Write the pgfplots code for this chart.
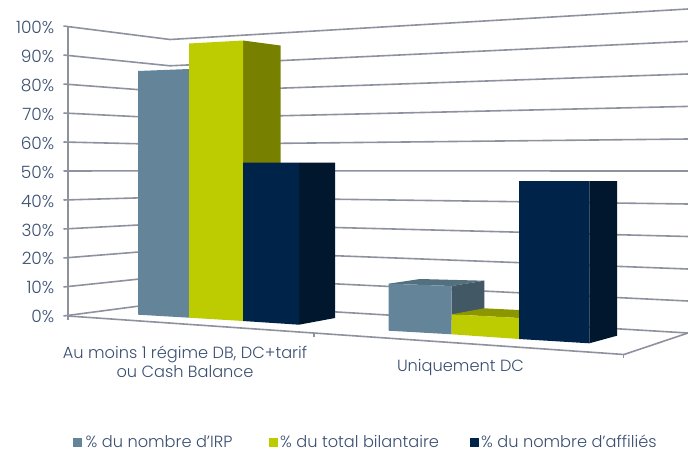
\documentclass[border=0pt]{standalone}
\usepackage{pgfplots}
\pgfplotsset{compat=1.18}
\usepackage{fontspec}
\setmainfont{Poppins Light}
\definecolor{txt}{HTML}{3A4F70}
\definecolor{grd}{HTML}{8E929E}
\definecolor{sl}{HTML}{64849A}
\definecolor{slt}{HTML}{53707F}
\definecolor{sls}{HTML}{435865}
\definecolor{li}{HTML}{BCCC00}
\definecolor{lis}{HTML}{788000}
\definecolor{lit}{HTML}{8C9700}
\definecolor{na}{HTML}{00234A}
\definecolor{nas}{HTML}{00172D}
\tikzset{
  gl/.style={draw=grd, line width=1.6pt, line cap=butt},
  face/.style={draw=none, fill=#1},
  lab/.style={font=\fontsize{16.2}{19.5}\selectfont, text=txt},
  tlab/.style={font=\fontsize{17}{20}\selectfont, text=txt, anchor=east, inner sep=0pt},
}
\begin{document}
\begin{tikzpicture}[x=1pt,y=1pt]
\begin{axis}[
  scale only axis, width=688pt, height=450pt,
  xmin=0, xmax=688, ymin=0, ymax=450, y dir=reverse,
  hide axis, clip=false,
]
% walls and floor
\addplot[gl,no marks] coordinates {(68,26) (68,320)};
\addplot[gl,no marks] coordinates {(68,316) (624,354.5) (688,333)};
\addplot[gl,no marks] coordinates {(314,333) (314,337)};
\addplot[gl,no marks] coordinates {(623.5,354) (623.5,358)};
% gridlines, front-left / back corner / right end
\addplot[gl,no marks] coordinates {(63.5,26) (170,39.5) (688,9)};
\addplot[gl,no marks] coordinates {(63.5,55) (170,65.8) (688,41.4)};
\addplot[gl,no marks] coordinates {(63.5,84) (170,92) (688,74)};
\addplot[gl,no marks] coordinates {(63.5,113) (170,118.3) (688,106.4)};
\addplot[gl,no marks] coordinates {(63.5,142) (170,144.5) (688,139)};
\addplot[gl,no marks] coordinates {(63.5,171) (170,170.8) (688,171)};
\addplot[gl,no marks] coordinates {(63.5,200) (170,197) (688,204)};
\addplot[gl,no marks] coordinates {(63.5,229) (170,223.3) (688,236.5)};
\addplot[gl,no marks] coordinates {(63.5,258) (170,249.5) (688,269)};
\addplot[gl,no marks] coordinates {(63.5,287) (170,275.8) (688,301)};
\addplot[gl,no marks] coordinates {(63.5,316) (170,302) (688,333)};
% group 1
\addplot[face=sl,no marks] coordinates {(138,71) (189,69) (189,317.7) (138,314.7)};
\addplot[face=lis,no marks] coordinates {(243,40.5) (280.5,45.5) (280.5,170) (243,170)};
\addplot[face=li,no marks] coordinates {(189,43.5) (243,40.5) (243,321) (189,317.7)};
\addplot[face=nas,no marks] coordinates {(299,162.5) (335,162.5) (335,318) (299,324.7)};
\addplot[face=na,no marks] coordinates {(243,162.5) (299,162.5) (299,324.7) (243,321)};
% group 2
\addplot[face=slt,no marks] coordinates {(388.7,283.7) (420,279) (484.3,280.7) (451.7,286)};
\addplot[face=sls,no marks] coordinates {(451.7,286) (484.3,280.7) (484.3,312) (451.7,318)};
\addplot[face=sl,no marks] coordinates {(388.7,283.7) (451.7,286) (451.7,334.3) (388.7,330.7)};
\addplot[face=lit,no marks] coordinates {(451.7,314.3) (484.3,308.3) (519,310) (519,318)};
\addplot[face=li,no marks] coordinates {(451.7,314.3) (519,318) (519,339) (451.7,334.3)};
\addplot[face=nas,no marks] coordinates {(589.3,181) (617,181) (617,335.7) (589.3,343.3)};
\addplot[face=na,no marks] coordinates {(519,181) (589.3,181) (589.3,343.3) (519,339)};
% legend swatches
\addplot[face=sl,no marks] coordinates {(73,438) (82,438) (82,447) (73,447)};
\addplot[face=li,no marks] coordinates {(268.5,438) (277.5,438) (277.5,447) (268.5,447)};
\addplot[face=na,no marks] coordinates {(469.5,438) (478.5,438) (478.5,447) (469.5,447)};
% tick labels
\node[tlab] at (axis cs:54.5,27) {100\%};
\node[tlab] at (axis cs:54.5,56) {90\%};
\node[tlab] at (axis cs:54.5,85) {80\%};
\node[tlab] at (axis cs:54.5,114) {70\%};
\node[tlab] at (axis cs:54.5,143) {60\%};
\node[tlab] at (axis cs:54.5,172) {50\%};
\node[tlab] at (axis cs:54.5,201) {40\%};
\node[tlab] at (axis cs:54.5,230) {30\%};
\node[tlab] at (axis cs:54.5,258.5) {20\%};
\node[tlab] at (axis cs:54.5,287.5) {10\%};
\node[tlab] at (axis cs:54.5,316) {0\%};
\node[lab,align=center,anchor=center] at (axis cs:185,362) {Au moins 1 régime DB, DC+tarif\\ou Cash Balance};
\node[lab,anchor=center] at (axis cs:460.5,367) {Uniquement DC};
\node[lab,anchor=west,inner sep=0pt] at (axis cs:85.5,441.5) {\% du nombre d'IRP};
\node[lab,anchor=west,inner sep=0pt] at (axis cs:280,441.5) {\% du total bilantaire};
\node[lab,anchor=west,inner sep=0pt] at (axis cs:481,441.5) {\% du nombre d'affiliés};
\end{axis}
\pgfresetboundingbox
\useasboundingbox (0,0) rectangle (688pt,450pt);
\end{tikzpicture}
\end{document}
